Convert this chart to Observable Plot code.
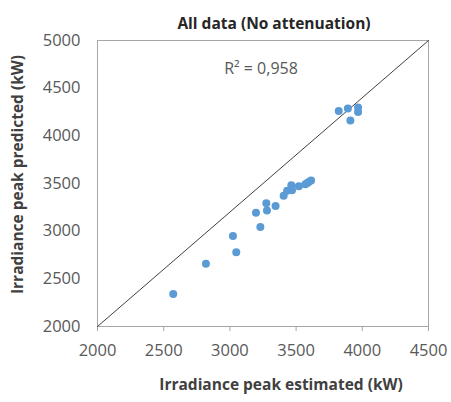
<!DOCTYPE html>
<html><head><meta charset="utf-8">
<script src="https://cdn.jsdelivr.net/npm/d3@7"></script>
<script src="https://cdn.jsdelivr.net/npm/@observablehq/plot@0.6"></script>
<style>body{margin:0;background:#fff}</style>
</head><body><div id="chart"></div>
<script>
const estimated = [2572, 2819, 3048, 3023, 3197, 3230, 3275, 3280, 3345, 3406, 3432, 3464, 3469, 3521, 3570, 3585, 3595, 3613, 3822, 3891, 3968, 3968, 3910];
const predicted = [2341, 2658, 2780, 2950, 3193, 3044, 3294, 3216, 3263, 3371, 3423, 3482, 3430, 3472, 3493, 3505, 3517, 3531, 4260, 4286, 4296, 4250, 4161];
const xTicks = [2000, 2500, 3000, 3500, 4000, 4500];
const yTicks = [2000, 2500, 3000, 3500, 4000, 4500, 5000];
const refX = [2000, 4500];
const refY = [2000, 5000];
const titleText = "All data (No attenuation)";
const xLabel = "Irradiance peak estimated (kW)";
const yLabel = "Irradiance peak predicted (kW)";
const r2Text = "R² = 0,958";

const points = estimated.map((x, i) => ({x, y: predicted[i]}));
const ref = refX.map((x, i) => ({x, y: refY[i]}));

const chart = Plot.plot({
  width: 451, height: 402,
  marginLeft: 97, marginRight: 23, marginTop: 40, marginBottom: 76,
  style: {fontFamily: "Open Sans", background: "#fff"},
  x: {domain: [2000, 4500]},
  y: {domain: [2000, 5000]},
  marks: [
    Plot.frame({stroke: "#a6a6a6"}),
    Plot.axisX({ticks: xTicks, tickSize: 5, tickPadding: 13, tickFormat: d => String(d), label: null, fontSize: 16.5, stroke: "#a6a6a6", fill: "#595959"}),
    Plot.axisY({ticks: yTicks, tickSize: 0, tickPadding: 17, tickFormat: d => String(d), label: null, fontSize: 16.5, fill: "#595959"}),
    Plot.line(ref, {x: "x", y: "y", stroke: "#404040", strokeWidth: 1}),
    Plot.dot(points, {x: "x", y: "y", r: 4, fill: "#5b9bd5"}),
    Plot.text([titleText], {text: d => d, frameAnchor: "top", dx: 11, dy: -23, fontWeight: "bold", fontSize: 15.5, fill: "#262626"}),
    Plot.text([r2Text], {text: d => d, frameAnchor: "top", dx: -2, dy: 22, fontSize: 16, fill: "#595959"}),
    Plot.text([xLabel], {text: d => d, frameAnchor: "bottom", dx: 18, dy: 63, fontWeight: "bold", fontSize: 15.5, fill: "#404040"}),
    Plot.text([yLabel], {text: d => d, frameAnchor: "left", textAnchor: "middle", dx: -79, dy: -9, rotate: -90, fontWeight: "bold", fontSize: 15.5, fill: "#404040"})
  ]
});
document.getElementById("chart").appendChild(chart);
</script>
</body></html>
